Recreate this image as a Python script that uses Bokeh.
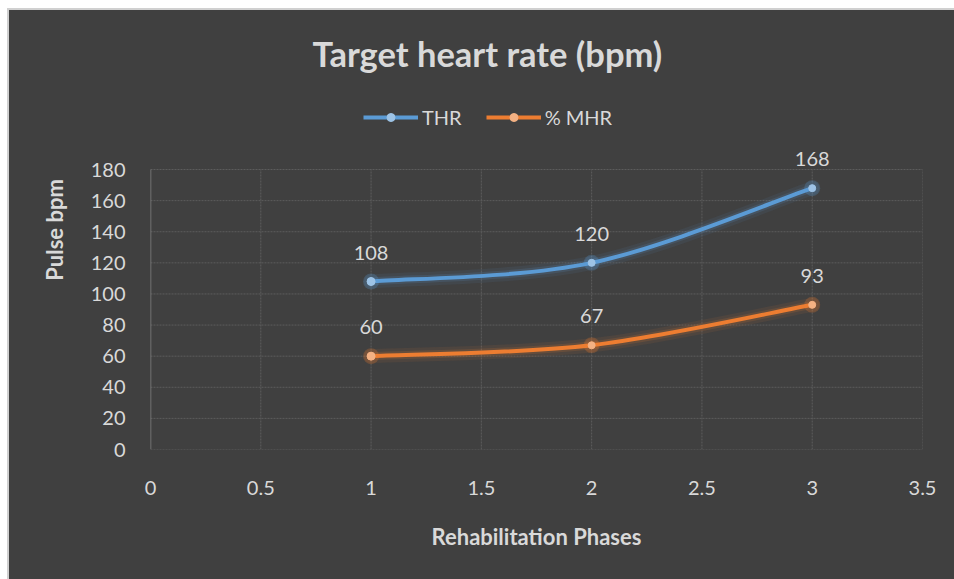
from bokeh.plotting import figure
from bokeh.models import (Range1d, LabelSet, Label, ColumnDataSource, Legend, LegendItem, FixedTicker)
from bokeh.embed import file_html
from bokeh.resources import INLINE
from bokeh.core.properties import value

# ---- data ----
phases = [1, 2, 3]
thr = [108, 120, 168]
mhr = [60, 67, 93]
series_names = ["THR", "% MHR"]
title_text = "Target heart rate (bpm)"
x_title = "Rehabilitation Phases"
y_title = "Pulse bpm"
x_ticks = [0, 0.5, 1, 1.5, 2, 2.5, 3, 3.5]
y_ticks = [0, 20, 40, 60, 80, 100, 120, 140, 160, 180]

BG = "#404040"
TXT = "#d9d9d9"
FONT = "Lato"

W, H = 945, 569
B_LEFT, B_RIGHT, B_BOTTOM = 141, 32, 130
PLOT_TOP = 159          # canvas y of the 180 gridline
frame_h = H - B_BOTTOM
y_top = y_ticks[-1] * frame_h / (frame_h - PLOT_TOP)

p = figure(width=W, height=H, output_backend="svg", toolbar_location=None, title_location=None,
           x_range=Range1d(x_ticks[0], x_ticks[-1]), y_range=Range1d(0, y_top),
           min_border_left=B_LEFT, min_border_right=B_RIGHT, min_border_top=0, min_border_bottom=B_BOTTOM,
           styles={"margin-left": "9px", "margin-top": "10px", "outline": "2px solid #d0d0d0",
                   "background-color": BG})
p.background_fill_color = None
p.border_fill_color = None
p.outline_line_color = None
p.grid.visible = False

# grid drawn only over the plot area
GRID = "#5c5c5c"
p.segment(x0=x_ticks[1:], y0=[y_ticks[0]] * (len(x_ticks) - 1), x1=x_ticks[1:],
          y1=[y_ticks[-1]] * (len(x_ticks) - 1),
          line_color=GRID, line_width=1, line_dash="2 1")
p.segment(x0=[x_ticks[0]] * len(y_ticks), y0=y_ticks, x1=[x_ticks[-1]] * len(y_ticks), y1=y_ticks,
          line_color=GRID, line_width=1, line_dash="2 1")
# vertical axis line, only across the plot area
p.segment(x0=[x_ticks[0]], y0=[y_ticks[0]], x1=[x_ticks[0]], y1=[y_ticks[-1]],
          line_color="#808080", line_width=1.5)

# axes
p.xaxis.ticker = FixedTicker(ticks=x_ticks)
p.yaxis.ticker = FixedTicker(ticks=y_ticks)
for ax in (p.xaxis, p.yaxis):
    ax.axis_line_color = None
    ax.major_tick_line_color = None
    ax.minor_tick_line_color = None
    ax.major_tick_out = 0
    ax.major_tick_in = 0
    ax.major_label_text_color = TXT
    ax.major_label_text_font = FONT
    ax.major_label_text_font_size = "20px"
    ax.axis_label_text_color = TXT
    ax.axis_label_text_font = FONT
    ax.axis_label_text_font_style = "bold"
    ax.axis_label_text_font_size = "22px"
p.xaxis.major_label_standoff = 31
p.yaxis.major_label_standoff = 25
p.xaxis.axis_label = x_title
p.yaxis.axis_label = y_title
p.xaxis.axis_label_standoff = 25
p.yaxis.axis_label_standoff = 20


def bezier_parts(xs, ys):
    n = len(xs)
    out = dict(x0=[], y0=[], x1=[], y1=[], cx0=[], cy0=[], cx1=[], cy1=[])
    for i in range(n - 1):
        a = i - 1 if i > 0 else i
        d = i + 2 if i + 2 < n else i + 1
        out["x0"].append(xs[i]); out["y0"].append(ys[i])
        out["x1"].append(xs[i + 1]); out["y1"].append(ys[i + 1])
        out["cx0"].append(xs[i] + (xs[i + 1] - xs[a]) / 6)
        out["cy0"].append(ys[i] + (ys[i + 1] - ys[a]) / 6)
        out["cx1"].append(xs[i + 1] - (xs[d] - xs[i]) / 6)
        out["cy1"].append(ys[i + 1] - (ys[d] - ys[i]) / 6)
    return out


colors = ["#5b9bd5", "#ed7d31"]
marker_colors = ["#9dc3e6", "#f4b183"]
legend_items = []
for name, ys, col, mcol in zip(series_names, [thr, mhr], colors, marker_colors):
    src = ColumnDataSource(bezier_parts(phases, ys))
    bz = dict(x0="x0", y0="y0", x1="x1", y1="y1", cx0="cx0", cy0="cy0", cx1="cx1", cy1="cy1", source=src)
    # glow
    p.bezier(line_color=col, line_width=14, line_alpha=0.08, line_cap="round", **bz)
    p.bezier(line_color=col, line_width=8, line_alpha=0.15, line_cap="round", **bz)
    p.scatter(phases, ys, size=16, fill_color=col, fill_alpha=0.25, line_color=None)
    # main
    p.bezier(line_color=col, line_width=4, line_cap="round", **bz)
    p.scatter(phases, ys, size=7, fill_color=mcol, line_color=mcol)
    # legend proxies (zero-length, hidden under the first point)
    lg_line = p.line([phases[0], phases[0]], [ys[0], ys[0]], line_color=col, line_width=4)
    lg_mark = p.scatter([phases[0]], [ys[0]], size=8, fill_color=mcol, line_color=mcol)
    legend_items.append(LegendItem(label=name, renderers=[lg_line, lg_mark]))

    lsrc = ColumnDataSource(dict(x=phases, y=ys, t=[str(v) for v in ys]))
    p.add_layout(LabelSet(x="x", y="y", text="t", source=lsrc, y_offset=29,
                          text_align="center", text_baseline="middle",
                          text_color=TXT, text_font=value(FONT), text_font_size="20px"))

legend = Legend(items=legend_items, orientation="horizontal", location=(213, 320),
                glyph_width=55, glyph_height=20, label_standoff=4, spacing=24,
                label_text_color=TXT, label_text_font=FONT, label_text_font_size="20px",
                background_fill_alpha=0, border_line_alpha=0, padding=0, margin=0)
p.add_layout(legend, "center")

p.add_layout(Label(x=162, y=396, x_units="screen", y_units="screen", text=title_text,
                   text_align="left", text_baseline="middle", text_color=TXT,
                   text_font=FONT, text_font_style="bold", text_font_size="34.5px"))

open("out.html", "w").write(file_html(p, INLINE))
